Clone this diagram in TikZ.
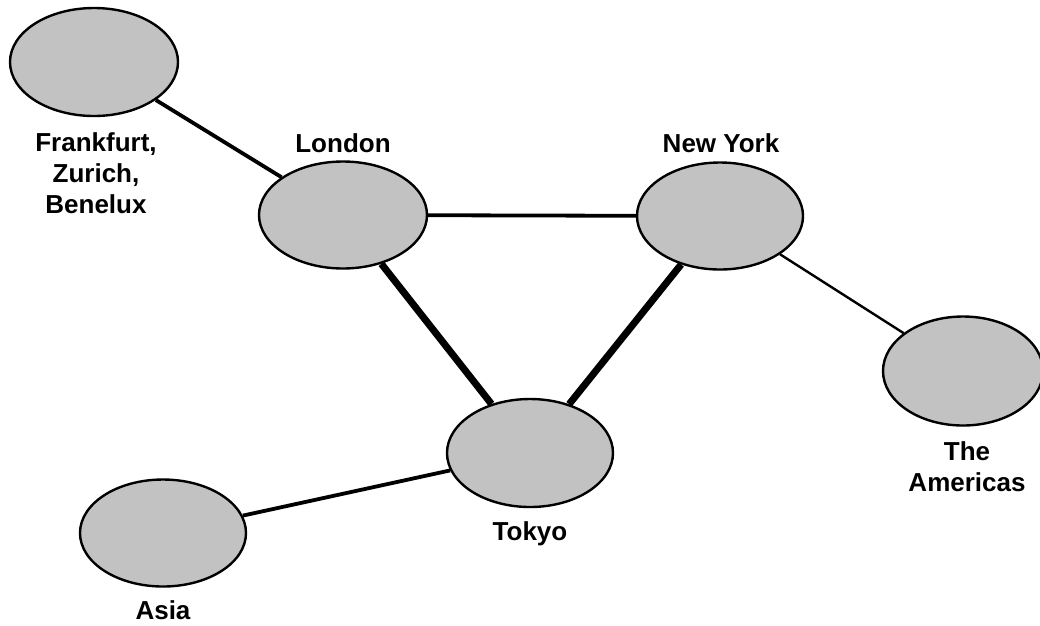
\documentclass[tikz,border=0pt]{standalone}
\usepackage{fontspec}
\setmainfont{Liberation Sans}
\usetikzlibrary{shapes.geometric}
\begin{document}
\begin{tikzpicture}[x=1pt,y=-1pt,
  hub/.style={ellipse, draw=black, line width=2.4pt, fill=black!24, inner sep=0pt,
              minimum width=#1},
  hub/.default=166pt,
  lbl/.style={font=\fontsize{26}{31}\selectfont\bfseries, align=center, inner sep=0pt},
  thinlink/.style={line width=2.4pt},
  midlink/.style={line width=3.8pt},
  thicklink/.style={line width=7pt}]
\useasboundingbox (0,0) rectangle (1040,625);
\node[hub=168pt, minimum height=108pt] (fra) at (94,62) {};
\node[hub=168pt, minimum height=107pt] (lon) at (343,215) {};
\node[hub=166pt, minimum height=107pt] (ny) at (720,216) {};
\node[hub=160pt, minimum height=109pt] (am) at (963,371) {};
\node[hub=166pt, minimum height=108pt] (tok) at (530,453) {};
\node[hub=166pt, minimum height=107pt] (asia) at (163,533) {};

\draw[midlink] (fra) -- (lon);
\draw[midlink] (lon) -- (ny);
\draw[thicklink] (lon) -- (tok);
\draw[thicklink] (ny) -- (tok);
\draw[thinlink] (ny) -- (am);
\draw[midlink] (tok) -- (asia);

\node[lbl] (lfra) at (96,173.5) {Frankfurt,\\Zurich,\\Benelux};
\node[lbl, anchor=base] (llon) at (343,152) {London};
\node[lbl, anchor=base] (lny) at (721,152.5) {New York};
\node[lbl] (lam) at (967,466.5) {The\\Americas};
\node[lbl, anchor=base] (ltok) at (530,540) {Tokyo};
\node[lbl, anchor=base] (lasia) at (163,619) {Asia};
\end{tikzpicture}
\end{document}
